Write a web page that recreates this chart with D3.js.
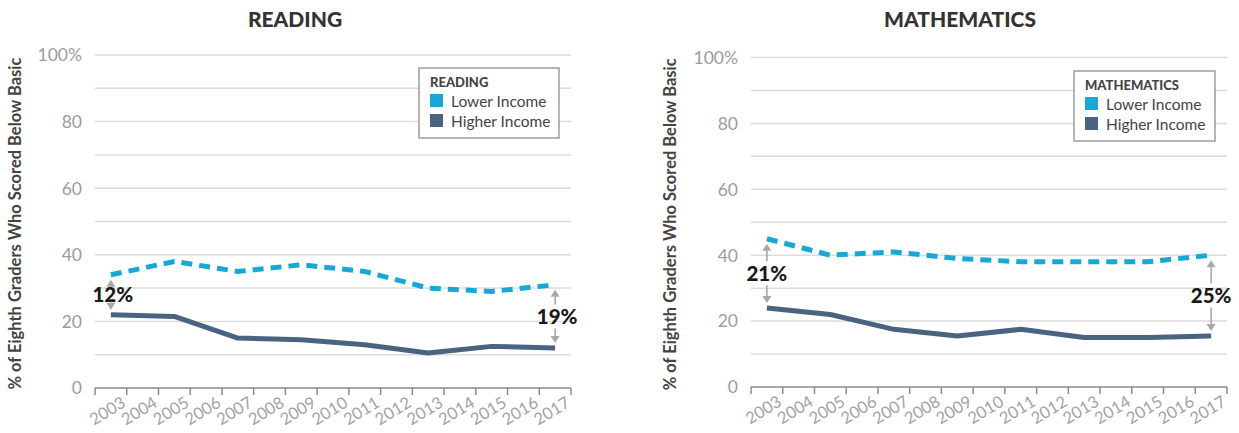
<!DOCTYPE html>
<html>
<head>
<meta charset="utf-8">
<script src="https://cdn.jsdelivr.net/npm/d3@7"></script>
<style>
  html, body { margin: 0; padding: 0; background: #fff; }
  svg { display: block; font-family: Lato, "Open Sans", sans-serif; }
</style>
</head>
<body>
<svg id="chart" width="1239" height="433"></svg>
<script>
// Year categories on the x axis (every year gets a band, data only on odd years)
const years = d3.range(2003, 2018).map(String);
const dataYears = ["2003", "2005", "2007", "2009", "2011", "2013", "2015", "2017"];

// Share of eighth graders scoring below Basic (%)
const readingLower  = [34, 38, 35, 37, 35, 30, 29, 31];
const readingHigher = [22, 21.5, 15, 14.5, 13, 10.5, 12.5, 12];
const mathLower     = [45, 40, 41, 39, 38, 38, 38, 40];
const mathHigher    = [24, 22, 17.5, 15.5, 17.5, 15, 15, 15.5];

// Gap annotations: first and last year
const readingGaps = [{ year: "2003", label: "12%" }, { year: "2017", label: "19%" }];
const mathGaps    = [{ year: "2003", label: "21%" }, { year: "2017", label: "25%" }];

const yTicks = [0, 20, 40, 60, 80, 100];
const seriesNames = ["Lower Income", "Higher Income"];
const colors = { lower: "#17a8d8", higher: "#4a6381" };

const svg = d3.select("#chart");

function panel(opts) {
  const g = svg.append("g");
  const x = d3.scaleBand().domain(years).range([opts.x0, opts.x1]).padding(0);
  const y = d3.scaleLinear().domain([0, 100]).range([opts.yBottom, opts.yTop]);
  const cx = yr => x(yr) + x.bandwidth() / 2;

  // Title
  g.append("text")
    .attr("x", opts.titleX).attr("y", 27)
    .attr("text-anchor", "middle")
    .attr("font-size", 21).attr("font-weight", 900).attr("fill", "#333")
    .text(opts.title);

  // Y axis title
  g.append("text")
    .attr("transform", `translate(${opts.yLabelX},${(opts.yTop + opts.yBottom) / 2 + 2}) rotate(-90)`)
    .attr("text-anchor", "middle")
    .attr("font-size", 16.5).attr("font-weight", 700).attr("fill", "#444")
    .text("% of Eighth Graders Who Scored Below Basic");

  // Gridlines every 10
  const grid = d3.range(10, 101, 10);
  g.append("g").selectAll("line").data(grid).join("line")
    .attr("x1", opts.x0).attr("x2", opts.x1)
    .attr("y1", d => y(d)).attr("y2", d => y(d))
    .attr("stroke", "#dcdcdc").attr("stroke-width", 1.5);

  // Y tick labels
  g.append("g").selectAll("text").data(yTicks).join("text")
    .attr("x", opts.x0 - 13).attr("y", d => y(d))
    .attr("dy", "0.36em")
    .attr("text-anchor", "end")
    .attr("font-size", 17.5).attr("font-weight", 400).attr("fill", "#9c9c9c")
    .text(d => d === 100 ? "100%" : d);

  // X axis baseline with band boundary ticks
  const xAxis = g.append("g");
  xAxis.append("line")
    .attr("x1", opts.x0).attr("x2", opts.x1)
    .attr("y1", y(0)).attr("y2", y(0))
    .attr("stroke", "#8a8a8a").attr("stroke-width", 1.5);
  const bounds = years.map(d => x(d)).concat([opts.x1]);
  xAxis.selectAll("line.tick").data(bounds).join("line").attr("class", "tick")
    .attr("x1", d => d).attr("x2", d => d)
    .attr("y1", y(0)).attr("y2", y(0) + 7)
    .attr("stroke", "#8a8a8a").attr("stroke-width", 1.5);
  xAxis.selectAll("text").data(years).join("text")
    .attr("transform", d => `translate(${cx(d) + 10},${y(0) + 8}) rotate(-31)`)
    .attr("text-anchor", "end")
    .attr("dy", "0.7em")
    .attr("font-size", 16.5).attr("font-weight", 400).attr("fill", "#a2a2a2")
    .text(d => d);

  // Lines
  const line = d3.line()
    .x((d, i) => cx(dataYears[i]))
    .y(d => y(d));
  g.append("path").datum(opts.higher)
    .attr("d", line).attr("fill", "none")
    .attr("stroke", colors.higher).attr("stroke-width", 5)
    .attr("stroke-linejoin", "round");
  g.append("path").datum(opts.lower)
    .attr("d", line).attr("fill", "none")
    .attr("stroke", colors.lower).attr("stroke-width", 5)
    .attr("stroke-dasharray", "11,7");

  // Gap annotations with arrows
  opts.gaps.forEach(gp => {
    const i = dataYears.indexOf(gp.year);
    const xa = cx(gp.year);
    const yTopV = y(opts.lower[i]) + 5;
    const yBotV = y(opts.higher[i]) - 5;
    const mid = (yTopV + yBotV) / 2;
    const ann = g.append("g");
    const arrow = (yFrom, yTo) => {
      const dir = Math.sign(yTo - yFrom);
      if (Math.abs(yTo - yFrom) > 7) {
        ann.append("line")
          .attr("x1", xa).attr("x2", xa)
          .attr("y1", yFrom).attr("y2", yTo - dir * 6)
          .attr("stroke", "#a8a8a8").attr("stroke-width", 1.6);
      }
      ann.append("path")
        .attr("d", `M${xa},${yTo} L${xa - 4.5},${yTo - dir * 7} L${xa + 4.5},${yTo - dir * 7} Z`)
        .attr("fill", "#a8a8a8");
    };
    arrow(mid - 12, yTopV);
    arrow(mid + 12, yBotV);
    ann.append("text")
      .attr("x", xa + opts.gapDx).attr("y", mid)
      .attr("dy", "0.36em")
      .attr("text-anchor", "middle")
      .attr("font-size", 20.5).attr("font-weight", 900).attr("fill", "#1a1a1a")
      .text(gp.label);
  });

  // Legend
  const lg = g.append("g").attr("transform", `translate(${opts.legendX},${opts.legendY})`);
  lg.append("rect")
    .attr("width", opts.legendW).attr("height", 70)
    .attr("fill", "#fff").attr("stroke", "#9d9d9d").attr("stroke-width", 1.5);
  lg.append("text")
    .attr("x", 11).attr("y", 19)
    .attr("font-size", 13).attr("font-weight", 900).attr("fill", "#444")
    .text(opts.title);
  const items = [
    { name: seriesNames[0], color: colors.lower },
    { name: seriesNames[1], color: colors.higher }
  ];
  items.forEach((it, k) => {
    lg.append("rect")
      .attr("x", 11).attr("y", 26 + k * 20)
      .attr("width", 13).attr("height", 13)
      .attr("fill", it.color);
    lg.append("text")
      .attr("x", 32).attr("y", 33 + k * 20)
      .attr("dy", "0.36em")
      .attr("font-size", 15.5).attr("fill", "#444")
      .text(it.name);
  });
}

panel({
  title: "READING", titleX: 295,
  x0: 95, x1: 571, yTop: 55, yBottom: 388, yLabelX: 21,
  lower: readingLower, higher: readingHigher, gaps: readingGaps, gapDx: 2,
  legendX: 419, legendY: 68, legendW: 140
});
panel({
  title: "MATHEMATICS", titleX: 960,
  x0: 751, x1: 1227, yTop: 57.5, yBottom: 387, yLabelX: 676,
  lower: mathLower, higher: mathHigher, gaps: mathGaps, gapDx: 0,
  legendX: 1074, legendY: 71, legendW: 141
});
</script>
</body>
</html>
